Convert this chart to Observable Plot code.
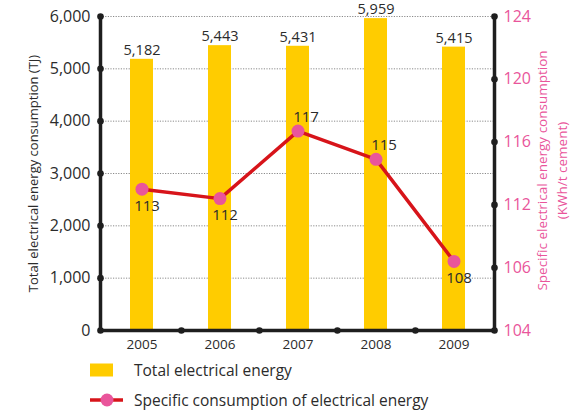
<!DOCTYPE html>
<html>
<head>
<meta charset="utf-8">
<script src="https://cdn.jsdelivr.net/npm/d3@7"></script>
<script src="https://cdn.jsdelivr.net/npm/@observablehq/plot@0.6"></script>
<style>
  html, body { margin: 0; padding: 0; background: #fff; }
  #wrap { position: relative; width: 587px; height: 412px; font-family: "Open Sans", sans-serif; color: #2b2b2b; }
  .leg { position: absolute; left: 90px; display: flex; align-items: center; font-size: 15.5px; }
  .leg svg { display: block; }
  .leg span { margin-left: 11px; }
</style>
</head>
<body>
<div id="wrap"><div id="chart"></div></div>
<script>
const years = ["2005", "2006", "2007", "2008", "2009"];
const totalTJ = [5182, 5443, 5431, 5959, 5415];
const specific = [113.0, 112.4, 116.7, 114.9, 108.4];
const specificLabels = ["113", "112", "117", "115", "108"];
const leftTicks = [0, 1000, 2000, 3000, 4000, 5000, 6000];
const rightTicks = [104, 108, 112, 116, 120, 124];
const rightTickLabels = ["104", "106", "112", "116", "120", "124"];
const leftTitle = "Total electrical energy consumption (TJ)";
const rightTitle = "Specific electrical energy consumption\n(KWh/t cement)";
const legendLabels = ["Total electrical energy", "Specific consumption of electrical energy"];

const YELLOW = "#ffcc00", RED = "#d7141a", PINK = "#e9559b", INK = "#1e1e1e", TXT = "#2b2b2b";
const W = 587, H = 352, ML = 100, MR = 93, MT = 16, MB = 22;
const rMin = 104, rMax = 124, lMax = 6000;
const toY = v => (v - rMin) / (rMax - rMin) * lMax;
const rightLabelMap = new Map(rightTicks.map((t, i) => [toY(t), rightTickLabels[i]]));
const step = (W - ML - MR) / years.length;
const fmt = d3.format(",");
const idx = d3.range(years.length);
const aboveIdx = [2, 3];

const plot = Plot.plot({
  width: W, height: H,
  marginLeft: ML, marginRight: MR, marginTop: MT, marginBottom: MB,
  style: { fontFamily: "\"Open Sans\", sans-serif", color: TXT, overflow: "visible" },
  x: { type: "band", domain: years, paddingInner: 0.71, paddingOuter: 0.355 },
  y: { domain: [0, lMax] },
  marks: [
    Plot.ruleY(leftTicks.slice(1), { stroke: "#8a8a8a", strokeWidth: 1, strokeDasharray: "1.2,1.4" }),
    Plot.barY(totalTJ, { x: years, y: totalTJ, fill: YELLOW }),
    Plot.text(totalTJ, { x: years, y: totalTJ, text: d => fmt(d), dy: -9, fontSize: 14.5, fill: TXT }),
    Plot.frame({ anchor: "left", stroke: INK, strokeWidth: 3.5 }),
    Plot.frame({ anchor: "right", stroke: INK, strokeWidth: 3.5 }),
    Plot.ruleY([0], { stroke: INK, strokeWidth: 3.5 }),
    Plot.dot(leftTicks, { y: d => d, frameAnchor: "left", r: 3.3, fill: INK }),
    Plot.dot(rightTicks, { y: d => toY(d), frameAnchor: "right", r: 3.3, fill: INK }),
    Plot.dot(years.slice(0, -1), { x: d => d, y: 0, dx: step / 2, r: 3.3, fill: INK }),
    Plot.axisY(leftTicks, { anchor: "left", tickSize: 0, tickPadding: 10, tickFormat: fmt, fontSize: 16, label: null, fill: TXT }),
    Plot.axisY(rightTicks.map(toY), { anchor: "right", tickSize: 0, tickPadding: 9, tickFormat: d => rightLabelMap.get(d), fontSize: 16, label: null, fill: PINK }),
    Plot.axisX({ tickSize: 0, tickPadding: 9, fontSize: 13.5, label: null, fill: TXT }),
    Plot.text([leftTitle], { frameAnchor: "left", textAnchor: "middle", dx: -67, rotate: -90, fontSize: 13, fill: TXT }),
    Plot.text([rightTitle], { frameAnchor: "right", textAnchor: "middle", dx: 56, dy: -3, rotate: -90, fontSize: 13.5, lineHeight: 1.45, fill: PINK }),
    Plot.line(specific, { x: years, y: d => toY(d), stroke: RED, strokeWidth: 3.5 }),
    Plot.dot(specific, { x: years, y: d => toY(d), r: 6.5, fill: PINK }),
    Plot.text(idx.filter(i => aboveIdx.includes(i)), { x: i => years[i], y: i => toY(specific[i]), text: i => specificLabels[i], dx: 8, dy: -14, fontSize: 15, fill: TXT }),
    Plot.text(idx.filter(i => !aboveIdx.includes(i)), { x: i => years[i], y: i => toY(specific[i]), text: i => specificLabels[i], dx: 5, dy: 17, fontSize: 15, fill: TXT })
  ]
});
document.getElementById("chart").appendChild(plot);

const wrap = document.getElementById("wrap");
const l1 = document.createElement("div");
l1.className = "leg"; l1.style.top = (369 - 10) + "px";
l1.innerHTML = `<svg width="33" height="20"><rect x="0" y="3.5" width="23" height="13" fill="${YELLOW}"></rect></svg><span>${legendLabels[0]}</span>`;
wrap.appendChild(l1);
const l2 = document.createElement("div");
l2.className = "leg"; l2.style.top = (399 - 10) + "px";
l2.innerHTML = `<svg width="33" height="20"><line x1="0" x2="33" y1="10" y2="10" stroke="${RED}" stroke-width="3.5"></line><circle cx="17" cy="10" r="6.5" fill="${PINK}"></circle></svg><span>${legendLabels[1]}</span>`;
wrap.appendChild(l2);
</script>
</body>
</html>
